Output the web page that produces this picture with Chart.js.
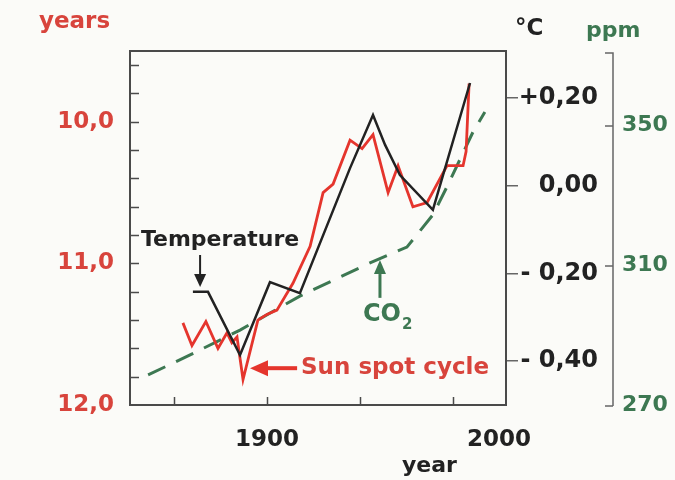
<!DOCTYPE html>
<html>
<head>
<meta charset="utf-8">
<script src="https://cdn.jsdelivr.net/npm/chart.js@4.4.0/dist/chart.umd.min.js"></script>
<style>
  html, body { margin: 0; padding: 0; background: #fbfbf8; }
  #wrap { width: 675px; height: 480px; }
</style>
</head>
<body>
<div id="wrap"><canvas id="chart" width="675" height="480"></canvas></div>
<script>
// 太阳黑子周期长度 (years)
const sunYears = [1863.8, 1867.7, 1873.7, 1878.9, 1882.8, 1884.9, 1887.1, 1889.7, 1896.1, 1900.0, 1904.3,
  1911.2, 1918.6, 1924.2, 1928.5, 1935.8, 1941.0, 1945.7, 1952.2, 1956.5, 1962.9, 1969.0, 1977.6,
  1984.5, 1985.8, 1987.1];
const sunLength = [11.42, 11.58, 11.41, 11.60, 11.49, 11.56, 11.52, 11.82, 11.40, 11.36, 11.33,
  11.14, 10.88, 10.50, 10.44, 10.13, 10.19, 10.09, 10.50, 10.31, 10.60, 10.57, 10.31,
  10.31, 10.21, 9.73];

// 温度 (°C)
const tempYears = [1868.1, 1874.6, 1888.4, 1901.3, 1914.2, 1935.8, 1945.7, 1950.9, 1957.3, 1971.5, 1987.5];
const tempValues = [-0.242, -0.242, -0.386, -0.220, -0.245, 0.040, 0.161, 0.093, 0.024, -0.055, 0.234];

// CO2 (ppm)
const co2Years = [1848.8, 1866.9, 1888.4, 1914.2, 1944.4, 1960.3, 1971.5, 1978.0, 1988.8, 1993.9];
const co2Values = [278.6, 284.3, 291.4, 301.1, 310.6, 315.1, 324.3, 332.9, 348.0, 353.7];

// 刻度
const xTicks = [1860, 1900, 1940, 1980, 2000];
const xLabels = [1900, 2000];
const xMinorTicks = [1860, 1900, 1940, 1980];
const cycleTicks = [10, 11, 12];
const cycleMinorTicks = [9.6, 9.8, 10.0, 10.2, 10.4, 10.6, 10.8, 11.0, 11.2, 11.4, 11.6, 11.8];
const tempTicks = [0.2, 0, -0.2, -0.4];
const ppmTicks = [270, 310, 350];

const RED = '#e5352d';
const RED_TEXT = '#d8443c';
const GREEN = '#3d7852';
const DARK = '#222222';
const FONT = 'DejaVu Sans';

const toPoints = (xs, ys) => xs.map((x, i) => ({ x: x, y: ys[i] }));

function fmtTemp(v) {
  if (Math.abs(v) < 1e-9) return '0,00';
  const s = Math.abs(v).toFixed(2).replace('.', ',');
  return v > 0 ? '+' + s : '- ' + s;
}

// 画箭头
function drawArrow(ctx, x1, y1, x2, y2, color, width, headLen, headW) {
  const ang = Math.atan2(y2 - y1, x2 - x1);
  const bx = x2 - Math.cos(ang) * headLen;
  const by = y2 - Math.sin(ang) * headLen;
  ctx.save();
  ctx.strokeStyle = color;
  ctx.fillStyle = color;
  ctx.lineWidth = width;
  ctx.beginPath();
  ctx.moveTo(x1, y1);
  ctx.lineTo(bx, by);
  ctx.stroke();
  ctx.beginPath();
  ctx.moveTo(x2, y2);
  ctx.lineTo(bx + Math.sin(ang) * headW / 2, by - Math.cos(ang) * headW / 2);
  ctx.lineTo(bx - Math.sin(ang) * headW / 2, by + Math.cos(ang) * headW / 2);
  ctx.closePath();
  ctx.fill();
  ctx.restore();
}

const decorPlugin = {
  id: 'decor',
  afterDraw(chart) {
    const ctx = chart.ctx;
    const a = chart.chartArea;
    const sx = chart.scales.x;
    const sCycle = chart.scales.yCycle;
    const sTemp = chart.scales.yTemp;
    const sPpm = chart.scales.yPpm;

    ctx.save();
    // 外框
    ctx.strokeStyle = '#4a4a4a';
    ctx.lineWidth = 2;
    ctx.strokeRect(a.left, a.top, a.right - a.left, a.bottom - a.top);

    // 左轴内刻度
    ctx.lineWidth = 1.5;
    ctx.beginPath();
    cycleMinorTicks.forEach(v => {
      const y = Math.round(sCycle.getPixelForValue(v)) + 0.5;
      ctx.moveTo(a.left, y);
      ctx.lineTo(a.left + 9, y);
    });
    // x轴内刻度
    xMinorTicks.forEach(v => {
      const x = Math.round(sx.getPixelForValue(v)) + 0.5;
      ctx.moveTo(x, a.bottom);
      ctx.lineTo(x, a.bottom - 8);
    });
    ctx.stroke();

    // ppm 轴（括号形）
    const px = sPpm.left + 15;
    ctx.strokeStyle = '#666';
    ctx.lineWidth = 1.5;
    ctx.beginPath();
    ctx.moveTo(px - 8, a.top + 2);
    ctx.lineTo(px, a.top + 2);
    ctx.lineTo(px, sPpm.getPixelForValue(270) + 1);
    ppmTicks.forEach(v => {
      const y = sPpm.getPixelForValue(v) + 1;
      ctx.moveTo(px, y);
      ctx.lineTo(px - 8, y);
    });
    ctx.stroke();

    // 轴标题
    ctx.font = 'bold 23px "' + FONT + '"';
    ctx.textBaseline = 'middle';
    ctx.textAlign = 'left';
    ctx.fillStyle = RED_TEXT;
    ctx.fillText('years', a.left - 91, 22);
    ctx.fillStyle = DARK;
    ctx.fillText('°C', a.right + 9, 29);
    ctx.fillStyle = GREEN;
    ctx.font = 'bold 22px "' + FONT + '"';
    ctx.fillText('ppm', a.right + 80, 31);
    ctx.fillStyle = DARK;
    ctx.textAlign = 'center';
    ctx.fillText('year', sx.getPixelForValue(1970), 466);

    // Temperature 标注
    ctx.font = 'bold 22px "' + FONT + '"';
    ctx.fillStyle = DARK;
    ctx.fillText('Temperature', sx.getPixelForValue(1879.8), sTemp.getPixelForValue(-0.124));
    drawArrow(ctx, sx.getPixelForValue(1871.2), sTemp.getPixelForValue(-0.158),
      sx.getPixelForValue(1871.2), sTemp.getPixelForValue(-0.231), DARK, 2, 13, 12);

    // Sun spot cycle 标注
    const ySun = sCycle.getPixelForValue(11.74);
    drawArrow(ctx, sx.getPixelForValue(1913.0), ySun, sx.getPixelForValue(1892.7), ySun, RED, 4, 18, 16);
    ctx.fillStyle = RED_TEXT;
    ctx.textAlign = 'left';
    ctx.font = 'bold 23px "' + FONT + '"';
    ctx.fillText('Sun spot cycle', sx.getPixelForValue(1914.7), ySun);

    // CO2 标注
    const xCo2 = sx.getPixelForValue(1948.7);
    drawArrow(ctx, xCo2, sPpm.getPixelForValue(300.6), xCo2, sPpm.getPixelForValue(311.4), GREEN, 3, 14, 12);
    const yCo2 = sPpm.getPixelForValue(295.7);
    ctx.fillStyle = GREEN;
    ctx.textAlign = 'right';
    ctx.font = 'bold 24px "' + FONT + '"';
    ctx.fillText('CO', xCo2 + 21, yCo2);
    ctx.textAlign = 'left';
    ctx.font = 'bold 15px "' + FONT + '"';
    ctx.fillText('2', xCo2 + 22, yCo2 + 10);
    ctx.restore();
  }
};

new Chart(document.getElementById('chart'), {
  type: 'line',
  data: {
    datasets: [
      {
        label: 'Temperature',
        data: toPoints(tempYears, tempValues),
        yAxisID: 'yTemp',
        borderColor: DARK,
        borderWidth: 2.5,
        pointRadius: 0,
        tension: 0,
        order: 1
      },
      {
        label: 'Sun spot cycle',
        data: toPoints(sunYears, sunLength),
        yAxisID: 'yCycle',
        borderColor: RED,
        borderWidth: 2.8,
        pointRadius: 0,
        tension: 0,
        order: 2
      },
      {
        label: 'CO2',
        data: toPoints(co2Years, co2Values),
        yAxisID: 'yPpm',
        borderColor: GREEN,
        borderWidth: 3,
        borderDash: [19, 12],
        pointRadius: 0,
        tension: 0,
        order: 3
      }
    ]
  },
  options: {
    responsive: false,
    animation: false,
    devicePixelRatio: 1,
    layout: { padding: { top: 51, left: 0, right: 0, bottom: 0 } },
    plugins: {
      legend: { display: false },
      tooltip: { enabled: false }
    },
    scales: {
      x: {
        type: 'linear',
        position: 'bottom',
        min: 1841,
        max: 2003,
        afterBuildTicks: s => { s.ticks = xTicks.map(v => ({ value: v })); },
        afterFit: s => { s.height = 75; },
        grid: { display: false },
        border: { display: false },
        ticks: {
          autoSkip: false,
          maxRotation: 0,
          padding: 13,
          color: DARK,
          font: { family: FONT, size: 23, weight: 'bold' },
          callback: v => xLabels.includes(v) ? String(v) : ''
        }
      },
      yCycle: {
        type: 'linear',
        position: 'left',
        reverse: true,
        min: 9.5,
        max: 12,
        afterBuildTicks: s => { s.ticks = cycleTicks.map(v => ({ value: v })); },
        afterFit: s => { s.width = 130; },
        grid: { display: false },
        border: { display: false },
        ticks: {
          padding: 8,
          color: RED_TEXT,
          font: { family: FONT, size: 23, weight: 'bold' },
          callback: v => v.toFixed(1).replace('.', ',')
        }
      },
      yTemp: {
        type: 'linear',
        position: 'right',
        weight: 0,
        min: -0.5,
        max: 0.307,
        afterBuildTicks: s => { s.ticks = tempTicks.map(v => ({ value: v })); },
        afterFit: s => { s.width = 92; },
        grid: { display: true, drawOnChartArea: false, drawTicks: true, tickLength: 12, color: '#666', lineWidth: 1.5 },
        border: { display: false },
        ticks: {
          crossAlign: 'far',
          padding: 2,
          color: DARK,
          font: { family: FONT, size: 24, weight: 'bold' },
          callback: v => fmtTemp(v)
        }
      },
      yPpm: {
        type: 'linear',
        position: 'right',
        weight: 1,
        min: 270,
        max: 371.1,
        afterBuildTicks: s => { s.ticks = ppmTicks.map(v => ({ value: v })); },
        afterFit: s => { s.width = 77; },
        grid: { display: false },
        border: { display: false },
        ticks: {
          padding: 16,
          color: GREEN,
          font: { family: FONT, size: 22, weight: 'bold' },
          callback: v => String(v)
        }
      }
    }
  },
  plugins: [decorPlugin]
});
</script>
</body>
</html>
